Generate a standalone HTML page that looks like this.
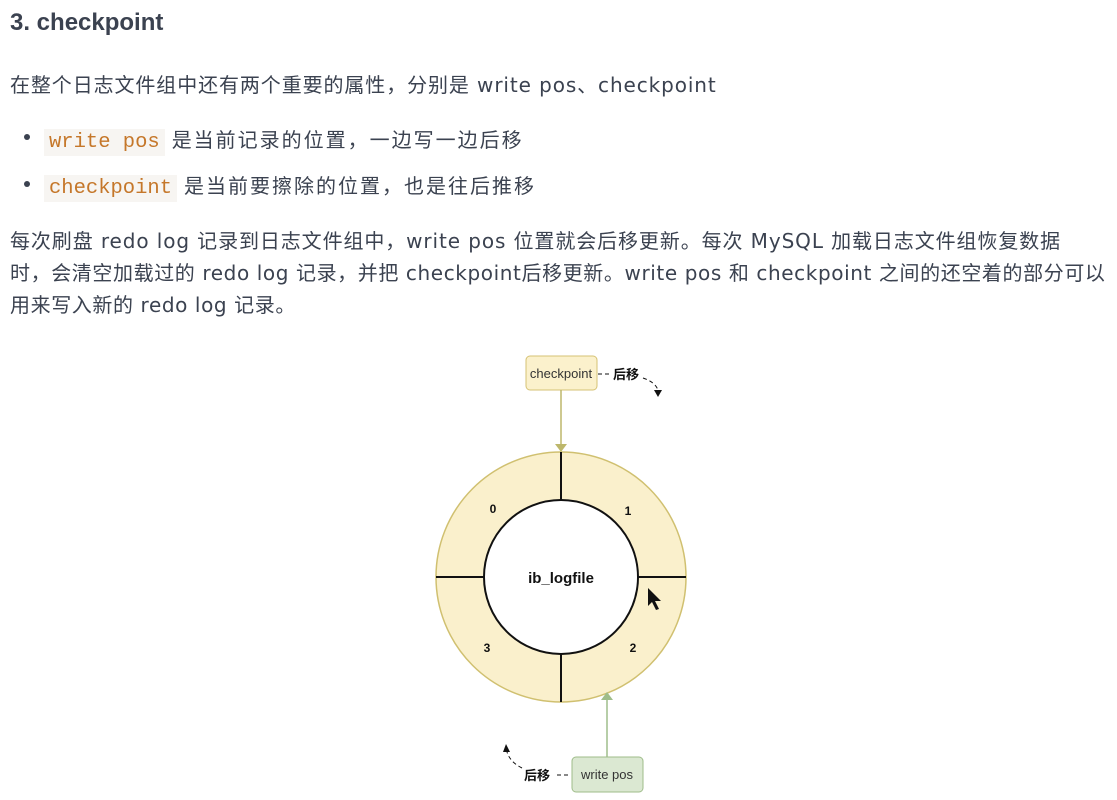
<!DOCTYPE html>
<html><head><meta charset="utf-8"><style>
body{margin:0;width:1117px;height:800px;background:#fff;font-family:"DejaVu Sans","Noto Sans CJK SC",sans-serif;color:#3b4250;position:relative;overflow:hidden}
.t{position:absolute;left:10px;white-space:nowrap;font-size:20px;letter-spacing:0.6px}
code{font-family:"Liberation Mono","Noto Sans CJK SC",monospace;color:#c5772a;background:#f7f5f2;padding:2px 5px;font-size:20.5px;letter-spacing:0}
.dot{position:absolute;left:24px;width:6px;height:6px;border-radius:50%;background:#3b4250}
.w{letter-spacing:2px}
</style></head><body>
<div class="t" style="top:9px;font-size:24px;font-weight:bold;font-family:'Liberation Sans',sans-serif;letter-spacing:0">3. checkpoint</div>
<div class="t" style="top:69px;letter-spacing:0.9px">在整个日志文件组中还有两个重要的属性，分别是 write pos、checkpoint</div>
<div class="dot" style="top:134px"></div>
<div class="t" style="left:44px;top:124px"><code>write pos</code> <span class="w">是当前记录的位置，一边写一边后移</span></div>
<div class="dot" style="top:181px"></div>
<div class="t" style="left:44px;top:170px"><code>checkpoint</code> <span class="w">是当前要擦除的位置，也是往后推移</span></div>
<div class="t" style="top:225px;letter-spacing:0.9px">每次刷盘 redo log 记录到日志文件组中，write pos 位置就会后移更新。每次 MySQL 加载日志文件组恢复数据</div>
<div class="t" style="top:257px">时，会清空加载过的 redo log 记录，并把 checkpoint后移更新。write pos 和 checkpoint 之间的还空着的部分可以</div>
<div class="t" style="top:289px">用来写入新的 redo log 记录。</div>
<svg width="1117" height="800" style="position:absolute;left:0;top:0" font-family="Liberation Sans, Noto Sans CJK SC, sans-serif">
<circle cx="561" cy="577" r="125" fill="#faf0cc" stroke="#d0c070" stroke-width="1.5"/>
<circle cx="561" cy="577" r="77" fill="#fff" stroke="#111" stroke-width="2"/>
<g stroke="#111" stroke-width="2">
<line x1="561" y1="452" x2="561" y2="500"/><line x1="561" y1="654" x2="561" y2="702"/>
<line x1="436" y1="577" x2="484" y2="577"/><line x1="638" y1="577" x2="686" y2="577"/>
</g>
<text x="561" y="583" text-anchor="middle" font-size="15" font-weight="bold" fill="#111">ib_logfile</text>
<g font-size="12" font-weight="bold" fill="#111" text-anchor="middle">
<text x="493" y="513">0</text><text x="628" y="515">1</text><text x="487" y="652">3</text><text x="633" y="652">2</text>
</g>
<rect x="526" y="356" width="71" height="34" rx="4" fill="#fbf1cc" stroke="#d6c274"/>
<text x="561" y="378" text-anchor="middle" font-size="13" fill="#333">checkpoint</text>
<line x1="561" y1="390" x2="561" y2="446" stroke="#bdb76b" stroke-width="1.5"/>
<path d="M555 444 L561 452 L567 444 Z" fill="#bdb76b"/>
<line x1="598" y1="374" x2="612" y2="374" stroke="#111" stroke-dasharray="4,3"/>
<text x="613" y="379" font-size="13" font-weight="bold" fill="#111">后移</text>
<path d="M643 378 Q655 382 658 390" fill="none" stroke="#111" stroke-dasharray="4,3"/>
<path d="M654 390 L658 397 L662 390 Z" fill="#111"/>
<rect x="572" y="757" width="71" height="35" rx="4" fill="#dbe8d2" stroke="#9fbd8a"/>
<text x="607" y="779" text-anchor="middle" font-size="13" fill="#333">write pos</text>
<line x1="607" y1="757" x2="607" y2="698" stroke="#9fbd8a" stroke-width="1.5"/>
<path d="M601 700 L607 692 L613 700 Z" fill="#9fbd8a"/>
<line x1="557" y1="775" x2="571" y2="775" stroke="#111" stroke-dasharray="4,3"/>
<text x="524" y="780" font-size="13" font-weight="bold" fill="#111">后移</text>
<path d="M522 768 Q510 762 507 752" fill="none" stroke="#111" stroke-dasharray="4,3"/>
<path d="M503 752 L506 744 L510 752 Z" fill="#111"/>
<path d="M648 588 L648 606 L652 602 L656 610 L659 609 L655 601 L661 601 Z" fill="#111"/>
</svg>
</body></html>
